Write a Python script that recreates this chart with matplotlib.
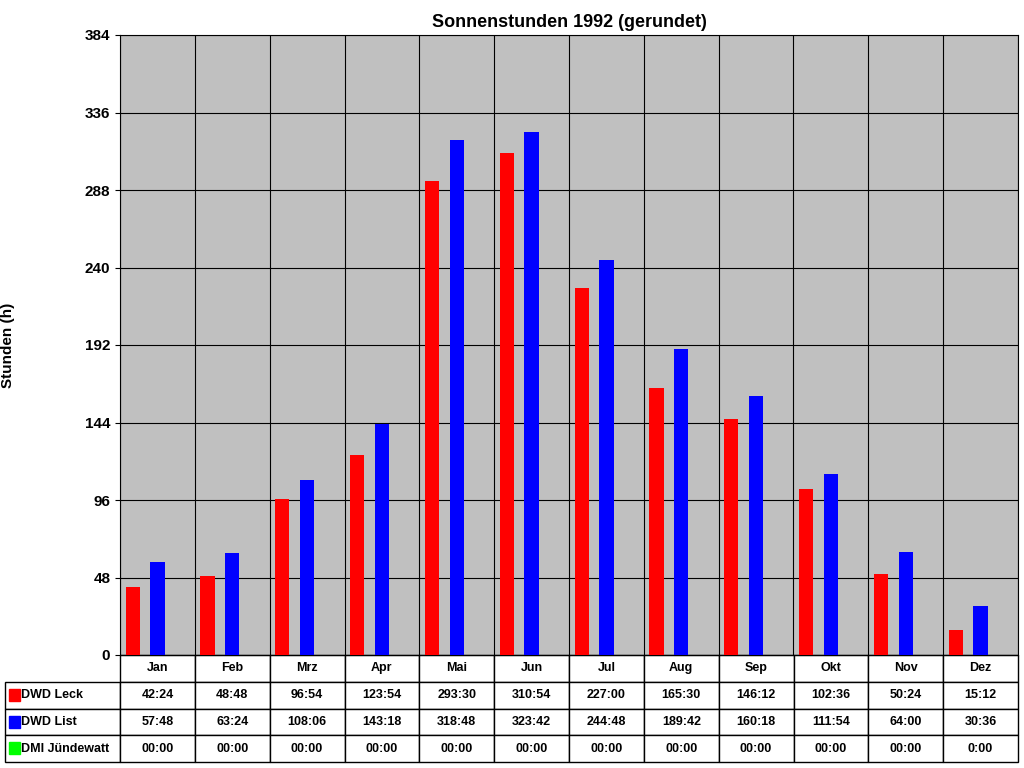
import matplotlib
matplotlib.use("Agg")
import matplotlib.pyplot as plt
import numpy as np

plt.rcParams['font.family'] = ['Liberation Sans', 'DejaVu Sans']

months = ["Jan","Feb","Mrz","Apr","Mai","Jun","Jul","Aug","Sep","Okt","Nov","Dez"]
leck_txt = ["42:24","48:48","96:54","123:54","293:30","310:54","227:00","165:30","146:12","102:36","50:24","15:12"]
list_txt = ["57:48","63:24","108:06","143:18","318:48","323:42","244:48","189:42","160:18","111:54","64:00","30:36"]
dmi_txt = ["00:00"]*11 + ["0:00"]
series_names = ["DWD Leck","DWD List","DMI Jündewatt"]
colors = ["#FF0000","#0000FF","#00FF00"]

def to_h(s):
    h, m = s.split(":")
    return int(h) + int(m)/60

leck = [to_h(s) for s in leck_txt]
lst = [to_h(s) for s in list_txt]
dmi = [to_h(s) for s in dmi_txt]

fig = plt.figure(figsize=(10.24, 7.68), dpi=100)
ax = fig.add_axes([120/1024, (768-655)/768, 898/1024, 620/768])
ax.set_facecolor("#C0C0C0")
x = np.arange(12)
for vals, off, c in zip([leck, lst, dmi], [-0.33, 0, 0.33], colors):
    ax.bar(x + off, vals, width=0.19, color=c, zorder=3)
ax.set_xlim(-0.5, 11.5)
ax.set_ylim(0, 384)
ax.set_yticks(np.arange(0, 385, 48))
ax.set_xticks(np.arange(-0.5, 12, 1))
ax.set_xticklabels([])
ax.tick_params(axis="x", length=0)
ax.tick_params(axis="y", labelsize=11)
ax.grid(True, color="black", linewidth=0.8, zorder=0)
for lab in ax.get_yticklabels():
    lab.set_fontweight("bold")
ax.set_ylabel("Stunden (h)", fontweight="bold", labelpad=50, fontsize=11)
ax.set_title("Sonnenstunden 1992 (gerundet)", fontweight="bold", fontsize=13)

cell = [[""] + months,
        ["DWD Leck"] + leck_txt,
        ["DWD List"] + list_txt,
        ["DMI Jündewatt"] + dmi_txt]
w0 = 115/898
tb = ax.table(cellText=cell, cellLoc="center",
              bbox=[-w0, -107/620, 1 + w0, 107/620],
              colWidths=[w0] + [1/12]*12)
tb.auto_set_font_size(False)
for (r, c), cl in tb.get_celld().items():
    cl.set_fontsize(9)
    cl.get_text().set_fontweight("bold")
    cl.set_facecolor("white")
    if c == 0 and r > 0:
        cl.get_text().set_ha("left")
        cl.get_text().set_text("    " + cell[r][0])
        cl.PAD = 0.02
    if r == 0 and c == 0:
        cl.set_edgecolor("white")
        cl.visible_edges = ""
for i, c in enumerate(colors):
    yc = 768 - (695 + i*26.5)
    fig.add_artist(plt.Rectangle((9/1024, (yc-6)/768), 11/1024, 12/768,
                                 color=c, transform=fig.transFigure))
fig.savefig("out.png", dpi=100)
